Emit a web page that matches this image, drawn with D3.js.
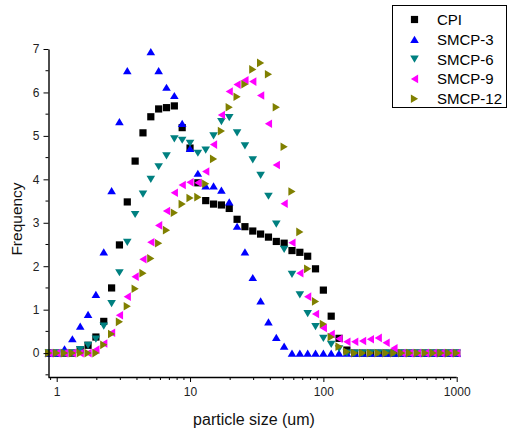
<!DOCTYPE html>
<html>
<head>
<meta charset="utf-8">
<script src="https://cdn.jsdelivr.net/npm/d3@7"></script>
<style>
  html, body { margin: 0; padding: 0; background: #fff; }
  svg { display: block; font-family: "Liberation Sans", Arial, sans-serif; }
</style>
</head>
<body>
<svg id="chart" width="508" height="432"></svg>
<script>
// Particle size classes (um), geometric spacing
const sizeClasses = [0.873, 1.000, 1.145, 1.311, 1.501, 1.719, 1.968, 2.254, 2.581, 2.955,
  3.384, 3.875, 4.437, 5.080, 5.817, 6.661, 7.627, 8.733, 10.00, 11.45,
  13.11, 15.01, 17.19, 19.68, 22.54, 25.81, 29.55, 33.84, 38.75, 44.37,
  50.80, 58.17, 66.61, 76.27, 87.33, 100.0, 114.5, 131.1, 150.1, 171.9,
  196.8, 225.4, 258.1, 295.5, 338.4, 387.5, 443.7, 508.0, 581.7, 666.1,
  762.7, 873.3, 1000];

const cpi = [0, 0, 0, 0, 0.08, 0.18, 0.37, 0.73, 1.50, 2.49,
  3.48, 4.42, 5.07, 5.44, 5.62, 5.65, 5.69, 5.19, 4.72, 3.92,
  3.51, 3.43, 3.41, 3.33, 3.08, 2.91, 2.81, 2.74, 2.67, 2.57,
  2.53, 2.36, 2.32, 2.23, 1.94, 1.45, 0.85, 0.34, 0.07, 0,
  0, 0, 0, 0, 0, 0, 0, 0, 0, 0,
  0, 0, 0];

const smcp3 = [0, 0, 0.10, 0.33, 0.62, 0.89, 1.35, 2.33, 3.74, 5.33,
  6.50, null, null, 6.94, 6.50, 6.12, 5.93, 5.29, 4.71, 4.14,
  3.85, 3.85, 3.75, 3.48, 2.92, 2.33, 1.74, 1.20, 0.72, 0.36,
  0.16, 0, 0, 0, 0, 0, 0, 0, 0, 0,
  0, 0, 0, 0, 0, 0, 0, 0, 0, 0,
  0, 0, 0];

const smcp6 = [0, 0, 0, 0, 0.08, 0.18, 0.32, 0.62, 1.14, 1.85,
  2.55, 3.19, 3.66, 4.00, 4.29, 4.54, 4.93, 4.90, 4.83, 4.60,
  4.67, 5.00, 5.33, 5.42, 5.07, 4.77, 4.45, 4.09, 3.61, 2.97,
  2.39, 1.81, 1.34, 0.91, 0.61, 0.34, 0.20, 0.10, 0, 0,
  0, 0, 0, 0, 0, 0, 0, 0, 0, 0,
  0, 0, 0];

const smcp9 = [0, 0, 0, 0, 0, 0, 0.08, 0.22, 0.47, 0.87,
  1.30, 1.76, 2.16, 2.55, 2.94, 3.27, 3.69, 3.87, 3.93, 3.92,
  4.18, 4.80, 5.48, 6.02, 6.18, 6.28, 6.25, 5.93, 5.28, 4.33,
  3.44, 2.54, 1.84, 1.30, 0.90, 0.58, 0.44, 0.33, 0.26, 0.26,
  0.28, 0.32, 0.35, 0.24, 0.11, 0, 0, 0, 0, 0,
  0, 0, 0];

const smcp12 = [0, 0, 0, 0, 0, 0, 0, 0.19, 0.44, 0.72,
  1.08, 1.48, 1.84, 2.18, 2.53, 2.83, 3.23, 3.43, 3.57, 3.59,
  3.90, 4.47, 5.11, 5.66, 5.90, 6.19, 6.53, 6.68, 6.42, 5.66,
  4.75, 3.72, 2.79, 1.94, 1.19, 0.67, 0.37, 0.15, 0.03, 0,
  0, 0, 0, 0, 0, 0, 0, 0, 0, 0,
  0, 0, 0];

const seriesNames = ["CPI", "SMCP-3", "SMCP-6", "SMCP-9", "SMCP-12"];
const seriesValues = [cpi, smcp3, smcp6, smcp9, smcp12];
const seriesColors = ["#000000", "#0000ff", "#008080", "#ff00ff", "#808000"];
const seriesShapes = ["square", "up", "down", "left", "right"];

const xTickValues = [1, 10, 100, 1000];
const yTickValues = [0, 1, 2, 3, 4, 5, 6, 7];

const svg = d3.select("#chart");

const x = d3.scaleLog().domain([0.868, 1000]).range([48.5, 456.7]);
const y = d3.scaleLinear().domain([-0.55, 7]).range([377, 49]);

// marker outlines, centred on the point
function markerPath(shape) {
  const w = 8.6, h = 7.2, s = 3.6;
  switch (shape) {
    case "square": return `M${-s},${-s}H${s}V${s}H${-s}Z`;
    case "up":    return `M0,${-h / 2}L${w / 2},${h / 2}L${-w / 2},${h / 2}Z`;
    case "down":  return `M0,${h / 2}L${w / 2},${-h / 2}L${-w / 2},${-h / 2}Z`;
    case "left":  return `M${-h / 2},0L${h / 2},${-w / 2}L${h / 2},${w / 2}Z`;
    case "right": return `M${h / 2},0L${-h / 2},${-w / 2}L${-h / 2},${w / 2}Z`;
  }
}

// scatter series
seriesValues.forEach((vals, i) => {
  const pts = vals.map((v, k) => ({ x: sizeClasses[k], v })).filter(d => d.v !== null);
  svg.append("g")
    .selectAll("path")
    .data(pts)
    .join("path")
    .attr("d", markerPath(seriesShapes[i]))
    .attr("transform", d => `translate(${x(d.x)},${y(d.v)})`)
    .attr("fill", seriesColors[i]);
});

// x axis (log) with decade labels and minor ticks
const xMinor = [];
for (let dec = 0.1; dec < 1000; dec *= 10) {
  for (let m = 2; m <= 9; m++) {
    const v = +(dec * m).toPrecision(3);
    if (v >= 0.868 && v <= 1000 && !xTickValues.includes(v)) xMinor.push(v);
  }
}
const xAxis = svg.append("g").attr("transform", "translate(0,377)");
xAxis.call(d3.axisBottom(x).tickValues(xTickValues).tickFormat(d3.format("d")).tickSize(5).tickSizeOuter(0));
xAxis.append("g").selectAll("line").data(xMinor).join("line")
  .attr("x1", d => x(d)).attr("x2", d => x(d)).attr("y1", 0).attr("y2", 3)
  .attr("stroke", "#000").attr("stroke-width", 1);
xAxis.select(".domain").attr("d", `M${x.range()[0]},0.5H${x.range()[1]}`);

// y axis with minor ticks at half steps
const yAxis = svg.append("g").attr("transform", "translate(48.5,0)");
yAxis.call(d3.axisLeft(y).tickValues(yTickValues).tickSize(5).tickSizeOuter(0));
const yMinor = d3.range(-0.5, 7, 1);
yAxis.append("g").selectAll("line").data(yMinor).join("line")
  .attr("x1", 0).attr("x2", -3).attr("y1", d => y(d)).attr("y2", d => y(d))
  .attr("stroke", "#000").attr("stroke-width", 1);

[xAxis, yAxis].forEach(ax => {
  ax.select(".domain").attr("stroke", "#000").attr("stroke-width", 1.4);
  ax.selectAll(".tick line").attr("stroke", "#000").attr("stroke-width", 1);
  ax.selectAll(".tick text").attr("font-size", 12).attr("fill", "#222")
    .attr("font-family", "'Liberation Sans', Arial, sans-serif");
});
yAxis.selectAll(".tick text").attr("x", -9);
xAxis.selectAll(".tick text").attr("y", 10);

// axis titles
svg.append("text")
  .attr("x", 254).attr("y", 425)
  .attr("text-anchor", "middle").attr("font-size", 16).attr("fill", "#111")
  .text("particle size (um)");
svg.append("text")
  .attr("transform", "translate(22,219) rotate(-90)")
  .attr("text-anchor", "middle").attr("font-size", 15.5).attr("fill", "#111")
  .text("Frequency");

// legend
const legend = svg.append("g");
legend.append("rect")
  .attr("x", 392.5).attr("y", 5.5).attr("width", 114).attr("height", 102)
  .attr("fill", "#fff").attr("stroke", "#000").attr("stroke-width", 1);
seriesNames.forEach((name, i) => {
  const ly = 19.5 + i * 19.8;
  legend.append("path")
    .attr("d", markerPath(seriesShapes[i]))
    .attr("transform", `translate(414.5,${ly})`)
    .attr("fill", seriesColors[i]);
  legend.append("text")
    .attr("x", 437).attr("y", ly + 5.5)
    .attr("font-size", 15).attr("fill", "#000")
    .text(name);
});
</script>
</body>
</html>
